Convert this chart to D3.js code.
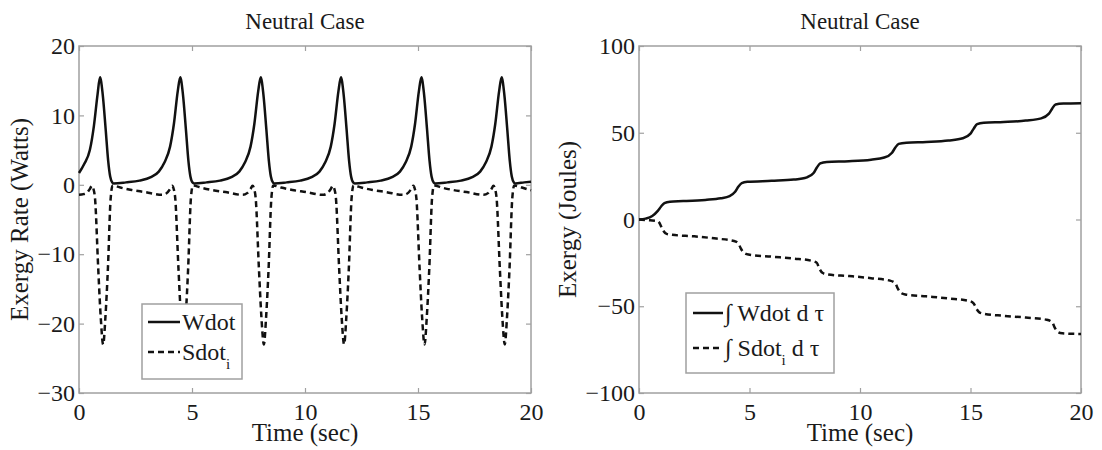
<!DOCTYPE html>
<html>
<head>
<meta charset="utf-8">
<script src="https://cdn.jsdelivr.net/npm/d3@7"></script>
<style>
  body { margin: 0; background: #fff; }
  text { font-family: "Liberation Serif", "Times New Roman", serif; fill: #1a1a1a; }
</style>
</head>
<body>
<div id="chart"></div>
<script>
// ---- data ----
var xTicks = [0, 5, 10, 15, 20];
var rateTicks = [-30, -20, -10, 0, 10, 20];
var energyTicks = [-100, -50, 0, 50, 100];

var wdotTime = [0, 0.23, 0.48, 0.66, 0.82, 0.93, 1.05, 1.18, 1.29, 1.38, 1.48,
  1.53, 2.08, 2.68, 3.18, 3.53, 3.78, 4.03, 4.20, 4.37, 4.48, 4.60, 4.73, 4.84, 4.93, 5.03,
  5.09, 5.64, 6.24, 6.74, 7.09, 7.34, 7.59, 7.76, 7.93, 8.04, 8.16, 8.29, 8.40, 8.49, 8.59,
  8.64, 9.19, 9.79, 10.29, 10.64, 10.89, 11.14, 11.31, 11.48, 11.59, 11.71, 11.84, 11.95, 12.04, 12.14,
  12.20, 12.75, 13.35, 13.85, 14.20, 14.45, 14.70, 14.87, 15.04, 15.15, 15.27, 15.40, 15.51, 15.60, 15.70,
  15.75, 16.30, 16.90, 17.40, 17.75, 18.00, 18.25, 18.42, 18.59, 18.70, 18.82, 18.95, 19.06, 19.15, 19.25,
  19.30, 19.70, 20.0];
var wdotValue = [1.7, 3.0, 5.0, 8.5, 13.0, 15.5, 13.0, 8.0, 3.5, 1.2, 0.3,
  0.2, 0.35, 0.6, 1.1, 1.9, 3.2, 5.5, 8.8, 13.5, 15.5, 13.0, 8.0, 3.5, 1.2, 0.3,
  0.2, 0.35, 0.6, 1.1, 1.9, 3.2, 5.5, 8.8, 13.5, 15.5, 13.0, 8.0, 3.5, 1.2, 0.3,
  0.2, 0.35, 0.6, 1.1, 1.9, 3.2, 5.5, 8.8, 13.5, 15.5, 13.0, 8.0, 3.5, 1.2, 0.3,
  0.2, 0.35, 0.6, 1.1, 1.9, 3.2, 5.5, 8.8, 13.5, 15.5, 13.0, 8.0, 3.5, 1.2, 0.3,
  0.2, 0.35, 0.6, 1.1, 1.9, 3.2, 5.5, 8.8, 13.5, 15.5, 13.0, 8.0, 3.5, 1.2, 0.3,
  0.2, 0.35, 0.45];

var sdotTime = [0, 0.2, 0.33, 0.48, 0.57, 0.64, 0.71, 0.85, 0.96, 1.07, 1.17, 1.28, 1.40, 1.49, 1.83, 2.33, 2.93, 3.68,
  3.88, 4.03, 4.12, 4.19, 4.26, 4.40, 4.51, 4.62, 4.72, 4.83, 4.95, 5.04, 5.38, 5.88, 6.48, 7.24,
  7.44, 7.59, 7.68, 7.75, 7.82, 7.96, 8.07, 8.18, 8.28, 8.39, 8.51, 8.60, 8.94, 9.44, 10.04, 10.79,
  10.99, 11.14, 11.23, 11.30, 11.37, 11.51, 11.62, 11.73, 11.83, 11.94, 12.06, 12.15, 12.49, 12.99, 13.59, 14.35,
  14.55, 14.70, 14.79, 14.86, 14.93, 15.07, 15.18, 15.29, 15.39, 15.50, 15.62, 15.71, 16.05, 16.55, 17.15, 17.90,
  18.10, 18.25, 18.34, 18.41, 18.48, 18.62, 18.73, 18.84, 18.94, 19.05, 19.17, 19.26, 19.60, 20.0];
var sdotValue = [-1.45, -1.35, -1.2, -0.6, -0.15, -0.6, -2, -12, -19, -23, -19, -12, -2, -0.1, -0.4, -0.75, -1.05, -1.45,
  -1.2, -0.6, -0.15, -0.6, -2, -12, -19, -23, -19, -12, -2, -0.1, -0.4, -0.75, -1.05, -1.45,
  -1.2, -0.6, -0.15, -0.6, -2, -12, -19, -23, -19, -12, -2, -0.1, -0.4, -0.75, -1.05, -1.45,
  -1.2, -0.6, -0.15, -0.6, -2, -12, -19, -23, -19, -12, -2, -0.1, -0.4, -0.75, -1.05, -1.45,
  -1.2, -0.6, -0.15, -0.6, -2, -12, -19, -23, -19, -12, -2, -0.1, -0.4, -0.75, -1.05, -1.45,
  -1.2, -0.6, -0.15, -0.6, -2, -12, -19, -23, -19, -12, -2, -0.1, -0.4, -0.8];

var intWTime = [0, 0.3, 0.6, 0.85, 1.0, 1.15, 1.4, 2.0, 3.0, 3.7, 4.1, 4.35, 4.5, 4.65, 4.9,
  6.0, 7.0, 7.6, 7.9, 8.05, 8.2, 8.5, 9.5, 10.5, 11.1, 11.45, 11.6, 11.75, 12.1,
  13.0, 14.0, 14.65, 15.0, 15.15, 15.3, 15.6, 16.5, 17.5, 18.2, 18.55, 18.7, 18.85, 19.2, 20.0];
var intWValue = [0, 0.5, 2, 5, 7.5, 9.5, 10.3, 10.6, 11.3, 12.2, 13.5, 16, 19, 21, 21.7,
  22.3, 23, 24.3, 26.8, 30, 32.3, 33.2, 33.6, 34.5, 35.7, 38.5, 41.5, 43.6, 44.3,
  44.7, 45.5, 46.8, 49.5, 52.5, 55, 55.8, 56.2, 57, 58.3, 61, 64, 66.3, 66.8, 67];

var intSTime = [0, 0.5, 0.8, 0.9, 1.0, 1.1, 1.25, 1.5, 2.5, 3.5, 4.3, 4.5, 4.6, 4.75, 4.95,
  6.0, 7.0, 7.8, 8.05, 8.15, 8.3, 8.5, 9.5, 10.5, 11.35, 11.6, 11.7, 11.85, 12.05,
  13.0, 14.0, 14.9, 15.15, 15.25, 15.4, 15.6, 16.5, 17.5, 18.45, 18.7, 18.8, 18.95, 19.15, 20.0];
var intSValue = [0, -0.5, -0.8, -1.5, -4, -6.5, -8.3, -8.8, -9.7, -11, -12.4, -13.8, -16.5, -19.2, -20.2,
  -21.4, -22.5, -23.8, -25, -28, -30.7, -31.6, -32.6, -33.8, -35.2, -36.8, -39.5, -42.3, -43.2,
  -44.3, -45.5, -46.8, -48.5, -51, -53.5, -54.3, -55.5, -56.5, -57.8, -59.3, -62, -64.8, -65.6, -66];

// ---- layout ----
var width = 1102;
var height = 450;
var axisColor = "#a0a0a0";
var tickSize = 24;
var labelSize = 25;
var lineWidth = 2.5;

var svg = d3.select("#chart").append("svg")
  .attr("width", width)
  .attr("height", height);

function drawPanel(cfg) {
  var x = d3.scaleLinear().domain([0, 20]).range([cfg.left, cfg.right]);
  var y = d3.scaleLinear().domain([cfg.yTicks[0], cfg.yTicks[cfg.yTicks.length - 1]]).range([cfg.bottom, cfg.top]);
  var g = svg.append("g");

  g.append("rect")
    .attr("x", cfg.left).attr("y", cfg.top)
    .attr("width", cfg.right - cfg.left).attr("height", cfg.bottom - cfg.top)
    .attr("fill", "none").attr("stroke", axisColor).attr("stroke-width", 1.5);

  // matlab-style inward ticks on all four sides
  var axes = [
    [d3.axisBottom(x).tickValues(xTicks).tickPadding(10), "translate(0," + cfg.bottom + ")"],
    [d3.axisTop(x).tickValues(xTicks).tickFormat(""), "translate(0," + cfg.top + ")"],
    [d3.axisLeft(y).tickValues(cfg.yTicks).tickPadding(4), "translate(" + cfg.left + ",0)"],
    [d3.axisRight(y).tickValues(cfg.yTicks).tickFormat(""), "translate(" + cfg.right + ",0)"]
  ];
  axes.forEach(function (a) {
    var ax = g.append("g")
      .attr("transform", a[1])
      .call(a[0].tickSizeInner(-5).tickSizeOuter(0))
      .attr("font-family", '"Liberation Serif", serif')
      .attr("font-size", tickSize);
    ax.select(".domain").remove();
    ax.selectAll("line").attr("stroke", axisColor).attr("stroke-width", 1.2);
    ax.selectAll("text").attr("fill", "#1a1a1a");
  });

  var line = d3.line()
    .x(function (d) { return x(d[0]); })
    .y(function (d) { return y(d[1]); })
    .curve(d3.curveMonotoneX);

  g.append("path")
    .datum(d3.zip(cfg.solid[0], cfg.solid[1]))
    .attr("d", line)
    .attr("fill", "none").attr("stroke", "#111").attr("stroke-width", lineWidth)
    .attr("stroke-linejoin", "round");

  g.append("path")
    .datum(d3.zip(cfg.dashed[0], cfg.dashed[1]))
    .attr("d", line)
    .attr("fill", "none").attr("stroke", "#111").attr("stroke-width", lineWidth)
    .attr("stroke-dasharray", "6,4");

  var cx = (cfg.left + cfg.right) / 2;
  g.append("text")
    .attr("x", cx).attr("y", 29)
    .attr("text-anchor", "middle").attr("font-size", 23)
    .text("Neutral Case");

  g.append("text")
    .attr("x", cx).attr("y", 441)
    .attr("text-anchor", "middle").attr("font-size", labelSize)
    .text("Time (sec)");

  g.append("text")
    .attr("transform", "translate(" + cfg.yLabelX + "," + (cfg.top + cfg.bottom) / 2 + ") rotate(-90)")
    .attr("text-anchor", "middle").attr("font-size", labelSize)
    .text(cfg.yLabel);

  // legend
  var lg = g.append("g");
  lg.append("rect")
    .attr("x", cfg.legend.x0).attr("y", cfg.legend.y0)
    .attr("width", cfg.legend.x1 - cfg.legend.x0).attr("height", cfg.legend.y1 - cfg.legend.y0)
    .attr("fill", "#fff").attr("stroke", axisColor).attr("stroke-width", 1.5);

  cfg.legend.rows.forEach(function (row, i) {
    var ry = cfg.legend.rowY[i];
    lg.append("line")
      .attr("x1", cfg.legend.lineX[0]).attr("x2", cfg.legend.lineX[1])
      .attr("y1", ry).attr("y2", ry)
      .attr("stroke", "#111").attr("stroke-width", lineWidth)
      .attr("stroke-dasharray", i === 1 ? "6,4" : null);
    var t = lg.append("text")
      .attr("x", cfg.legend.textX).attr("y", ry + 8)
      .attr("font-size", tickSize);
    t.append("tspan").text(row[0]);
    if (row[1]) {
      t.append("tspan").attr("font-size", 15).attr("dy", 9).text(row[1]);
      t.append("tspan").attr("dy", -9).text(row[2]);
    }
  });
}

drawPanel({
  left: 79, right: 531, top: 46, bottom: 393,
  yTicks: rateTicks,
  yLabel: "Exergy Rate (Watts)", yLabelX: 28,
  solid: [wdotTime, wdotValue],
  dashed: [sdotTime, sdotValue],
  legend: {
    x0: 142, x1: 242, y0: 304, y1: 379,
    lineX: [148, 180], textX: 182, rowY: [322, 352],
    rows: [["Wdot"], ["Sdot", "i", ""]]
  }
});

drawPanel({
  left: 639, right: 1081, top: 46, bottom: 393,
  yTicks: energyTicks,
  yLabel: "Exergy (Joules)", yLabelX: 576,
  solid: [intWTime, intWValue],
  dashed: [intSTime, intSValue],
  legend: {
    x0: 686, x1: 834, y0: 293, y1: 373,
    lineX: [693, 723], textX: 725, rowY: [313, 348],
    rows: [["\u222B Wdot d \u03C4"], ["\u222B Sdot", "i", " d \u03C4"]]
  }
});
</script>
</body>
</html>
